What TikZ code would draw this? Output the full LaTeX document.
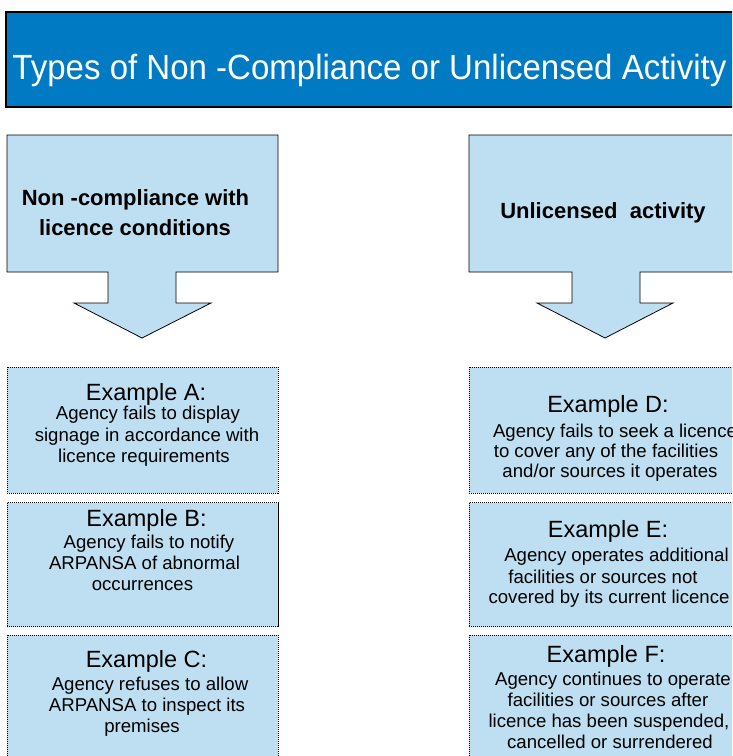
\documentclass[tikz,border=0pt]{standalone}
\usepackage{fontspec}
\usepackage{graphicx}
\setmainfont{Liberation Sans}
\definecolor{titleblue}{RGB}{0,122,195}
\definecolor{paleblue}{RGB}{190,223,241}
\begin{document}
\begin{tikzpicture}[x=1pt,y=-1pt,
  titlebox/.style={draw=black,line width=1.2pt,fill=titleblue},
  callout/.style={draw=black,line width=0.8pt,fill=paleblue},
  exbox/.style={draw=black,line width=0.9pt,dash pattern=on 1.2pt off 0.8pt,fill=paleblue},
  titletext/.style={font=\fontsize{35}{40}\selectfont,text=white,anchor=base,inner sep=0pt},
  calltext/.style={font=\bfseries\fontsize{22}{26}\selectfont,anchor=base,inner sep=0pt},
  head/.style={font=\fontsize{23.5}{28}\selectfont,anchor=base,inner sep=0pt},
  body/.style={font=\fontsize{18.6}{21}\selectfont,anchor=base,inner sep=0pt}]
\useasboundingbox (0,0) rectangle (732,756);
\clip (0,0) rectangle (732,756);
% title
\path[titlebox] (6,12) rectangle (745,107);
\node[titletext] (title) at (369.5,79) {\resizebox{714pt}{\height}{Types of Non -Compliance or Unlicensed Activity}};
% callouts
\path[callout] (7,135) -- (278,135) -- (278,272) -- (176,272) -- (176,303) -- (211,303)
  -- (142,338) -- (74,303) -- (108,303) -- (108,272) -- (7,272) -- cycle;
\path[callout] (469,135) -- (740,135) -- (740,272) -- (640,272) -- (640,303) -- (673,303)
  -- (605,338) -- (537,303) -- (572,303) -- (572,272) -- (469,272) -- cycle;
\node[calltext] (L1) at (135.5,205) {Non -compliance with};
\node[calltext] (L2) at (135,235) {licence conditions};
\node[calltext] (R1) at (603,218) {Unlicensed~~activity};
% example boxes
\path[exbox] (7,367) rectangle (278,493);
\path[exbox] (7,502.5) rectangle (278,626.5);
\path[exbox] (7,635) rectangle (278,770);
\path[exbox] (469,367) rectangle (745,493);
\path[exbox] (469,502.5) rectangle (745,626.5);
\path[exbox] (469,635) rectangle (745,770);
% A
\node[head] (Ah) at (146,400) {Example A:};
\node[body] (A1) at (148,419) {Agency fails to display};
\node[body] (A2) at (147,441) {signage in accordance with};
\node[body] (A3) at (144,462) {licence requirements};
% B
\node[head] (Bh) at (146.5,526) {Example B:};
\node[body] (B1) at (149,548) {Agency fails to notify};
\node[body] (B2) at (144.5,569) {ARPANSA of abnormal};
\node[body] (B3) at (142.5,590) {occurrences};
% C
\node[head] (Ch) at (146.5,667) {Example C:};
\node[body] (C1) at (150,690) {Agency refuses to allow};
\node[body] (C2) at (147,711.5) {ARPANSA to inspect its};
\node[body] (C3) at (142,732) {premises};
% D
\node[head] (Dh) at (608,412) {Example D:};
\node[body] (D1) at (615,437) {Agency fails to seek a licence};
\node[body] (D2) at (606,457) {to cover any of the facilities};
\node[body] (D3) at (610,477) {and/or sources it operates};
% E
\node[head] (Eh) at (608,537) {Example E:};
\node[body] (E1) at (616.5,561) {Agency operates additional};
\node[body] (E2) at (603,583) {facilities or sources not};
\node[body] (E3) at (609,603) {covered by its current licence};
% F
\node[head] (Fh) at (606,662) {Example F:};
\node[body] (F1) at (613,685) {Agency continues to operate};
\node[body] (F2) at (608,706.5) {facilities or sources after};
\node[body] (F3) at (609,727) {licence has been suspended,};
\node[body] (F4) at (610,748) {cancelled or surrendered};
\end{tikzpicture}
\end{document}
